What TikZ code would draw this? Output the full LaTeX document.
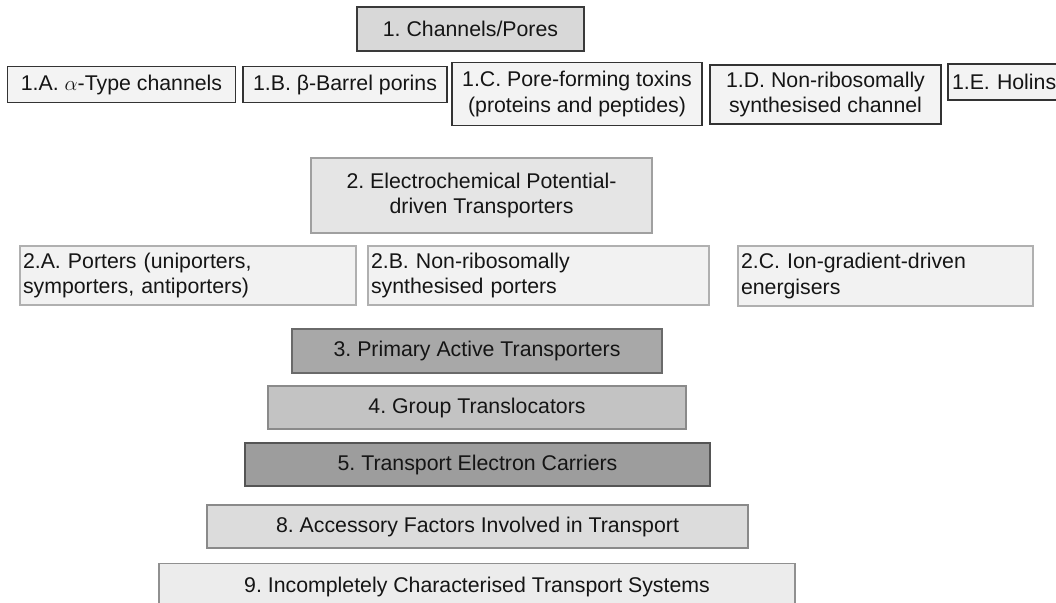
\documentclass[tikz,border=0pt]{standalone}
\usepackage{fontspec}
\setmainfont{Liberation Sans}
\definecolor{txt}{HTML}{151515}
\definecolor{fA}{HTML}{D8D8D8}\definecolor{dA}{HTML}{3A3A3A}
\definecolor{fB}{HTML}{F3F3F3}\definecolor{dB}{HTML}{333333}
\definecolor{fC}{HTML}{E5E5E5}\definecolor{dC}{HTML}{A0A0A0}
\definecolor{fD}{HTML}{F2F2F2}\definecolor{dD}{HTML}{B0B0B0}
\definecolor{f3}{HTML}{A8A8A8}\definecolor{d3}{HTML}{6A6A6A}
\definecolor{f4}{HTML}{C3C3C3}\definecolor{d4}{HTML}{8A8A8A}
\definecolor{f5}{HTML}{9D9D9D}\definecolor{d5}{HTML}{555555}
\definecolor{f8}{HTML}{DCDCDC}\definecolor{d8}{HTML}{8A8A8A}
\definecolor{f9}{HTML}{ECECEC}\definecolor{d9}{HTML}{909090}
\tikzset{
  boxfont/.style={font=\fontsize{21.3pt}{25.5pt}\selectfont\frenchspacing},
  box/.style={draw, line width=1.2pt, inner sep=0pt, text=txt, align=center, boxfont},
  topbox/.style={box, fill=fA, draw=dA},
  subone/.style={box, fill=fB, draw=dB},
  twobox/.style={box, fill=fC, draw=dC},
  subtwo/.style={box, fill=fD, draw=dD, align=left},
}
\begin{document}
\begin{tikzpicture}[x=1pt, y=-1pt]
\useasboundingbox (0,0) rectangle (1056,602);
\clip (0,0) rectangle (1056,602);
\fill[white] (0,0) rectangle (1056,602);
% level 1
\node[topbox, minimum width=227pt, minimum height=44pt] (c1) at (470.5,29) {1. Channels/Pores};
\node[subone, minimum width=228pt, minimum height=36pt] (c1a) at (121.5,84.5) {1.A. $\alpha$-Type channels};
\node[subone, minimum width=204pt, minimum height=36pt] (c1b) at (345,84.5) {1.B. β-Barrel porins};
\node[subone, minimum width=250pt, minimum height=63pt] (c1c) at (577,94) {1.C. Pore-forming toxins\\(proteins and peptides)};
\node[subone, minimum width=231pt, minimum height=59pt] (c1d) at (825.5,94.5) {1.D. Non-ribosomally\\synthesised channel};
\node[subone, align=left, text width=108pt, minimum width=116pt, minimum height=36pt] (c1e) at (1006,82) {1.E. Holins};
% level 2
\node[twobox, minimum width=341pt, minimum height=75pt] (c2) at (481.5,195.5) {2. Electrochemical Potential-\\driven Transporters};
\node[subtwo, text width=330pt, minimum width=336pt, minimum height=59pt] (c2a) at (188,275.5) {2.A. Porters (uniporters,\\symporters, antiporters)};
\node[subtwo, text width=335pt, minimum width=341pt, minimum height=59pt] (c2b) at (538.5,275.5) {2.B. Non-ribosomally\\synthesised porters};
\node[subtwo, text width=289pt, minimum width=295pt, minimum height=60pt] (c2c) at (885.5,276) {2.C. Ion-gradient-driven\\energisers};
% other classes
\node[box, fill=f3, draw=d3, minimum width=370pt, minimum height=44pt] (c3) at (477,351) {3. Primary Active Transporters};
\node[box, fill=f4, draw=d4, minimum width=418pt, minimum height=43pt] (c4) at (477,407.5) {4. Group Translocators};
\node[box, fill=f5, draw=d5, minimum width=465pt, minimum height=43pt] (c5) at (477.5,464.5) {5. Transport Electron Carriers};
\node[box, fill=f8, draw=d8, minimum width=541pt, minimum height=43pt] (c8) at (477.5,526.5) {8. Accessory Factors Involved in Transport};
\node[box, fill=f9, draw=d9, minimum width=636pt, minimum height=48pt, anchor=north] (c9) at (477,563) {};
\node[text=txt, boxfont, inner sep=0pt] (c9t) at (477,587) {9. Incompletely Characterised Transport Systems};
\end{tikzpicture}
\end{document}
